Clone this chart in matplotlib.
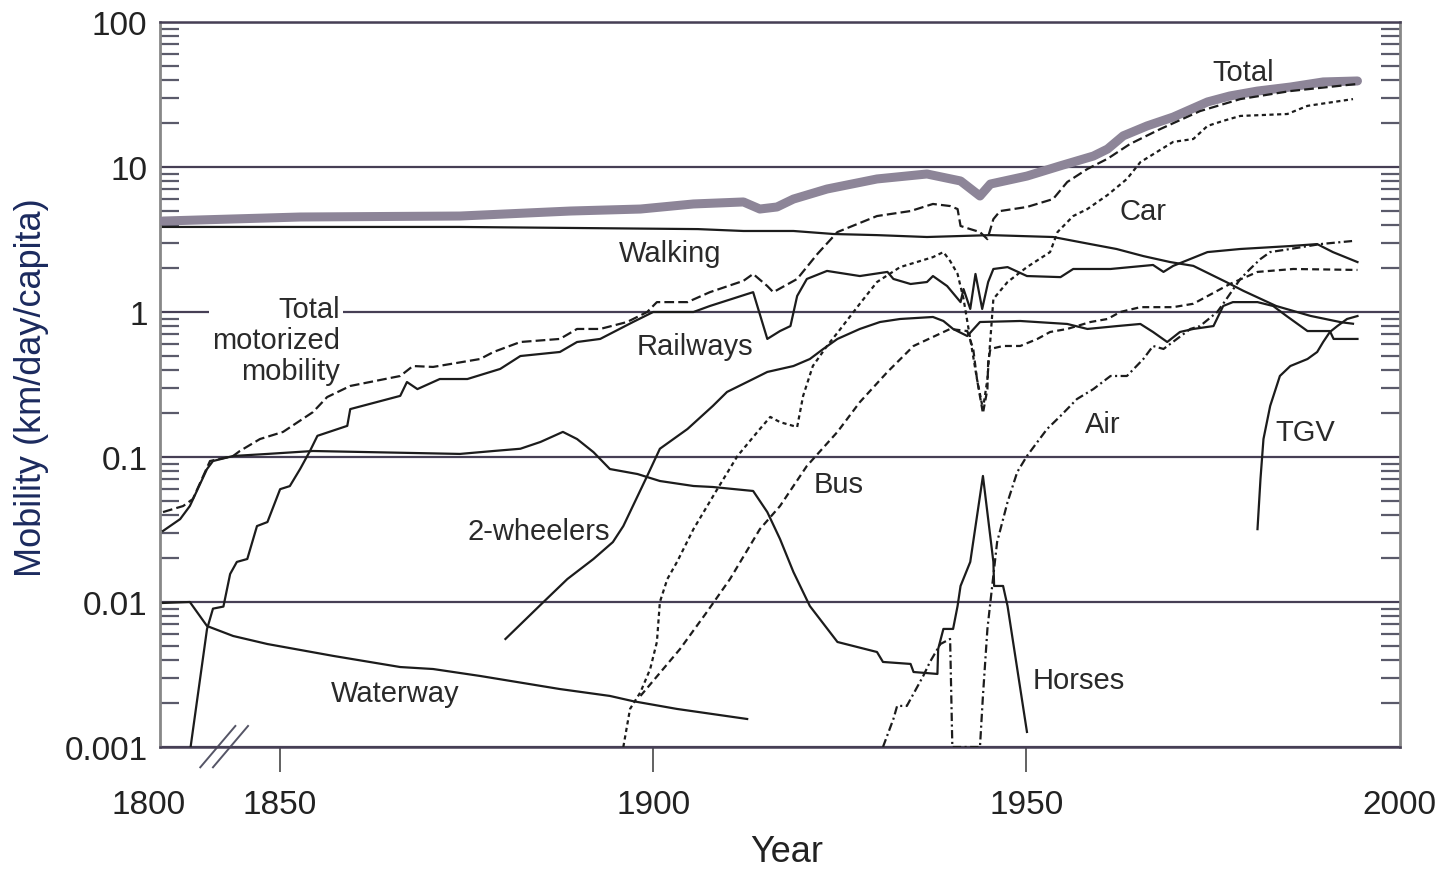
import matplotlib.pyplot as plt
import matplotlib.transforms as mtransforms
from matplotlib.ticker import LogLocator, NullFormatter

plt.rcParams['font.family'] = ['Liberation Sans', 'DejaVu Sans']
plt.rcParams['lines.scale_dashes'] = False

# ---- mobility by mode, km per day per capita ----
total_years = [1834.3, 1852.7, 1874.1, 1888.9, 1898.3, 1905.4, 1912.1, 1914.3, 1916.6, 1918.8,
               1923.3, 1930.0, 1936.7, 1941.2, 1943.8, 1945.2, 1950.1, 1954.6, 1959.0, 1960.9,
               1963.0, 1966.2, 1969.7, 1974.3, 1977.3, 1981.0, 1985.4, 1989.8, 1994.4]
total_vals = [4.24, 4.52, 4.59, 4.97, 5.13, 5.56, 5.74, 5.13, 5.30, 6.01,
              7.05, 8.27, 8.95, 8.01, 6.31, 7.63, 8.66, 10.2, 11.9, 13.3,
              16.4, 19.2, 22.1, 28.1, 30.9, 33.4, 35.6, 38.6, 39.2]

walk_years = [1834.3, 1874.1, 1906.0, 1912.1, 1918.8, 1924.2, 1930.0, 1936.7, 1945.2, 1953.6,
              1958.6, 1962.1, 1965.7, 1969.3, 1972.4, 1976.8, 1979.1, 1983.5, 1988.1, 1992.2, 1993.8]
walk_vals = [3.86, 3.86, 3.73, 3.62, 3.62, 3.45, 3.39, 3.29, 3.39, 3.29,
             2.94, 2.72, 2.43, 2.21, 2.08, 1.61, 1.40, 1.10, 0.94, 0.85, 0.83]

motor_years = [1834.3, 1837.0, 1838.3, 1840.6, 1843.7, 1844.6, 1847.3, 1850.4, 1854.4, 1856.3,
               1859.4, 1866.1, 1867.8, 1870.5, 1876.8, 1878.6, 1882.2, 1887.5, 1889.8, 1892.9,
               1896.5, 1899.2, 1900.5, 1904.6, 1907.6, 1912.1, 1913.4, 1915.3, 1916.1, 1919.3,
               1922.0, 1924.7, 1930.0, 1934.5, 1937.5, 1939.8, 1940.8, 1941.2, 1942.5, 1943.8,
               1944.8, 1945.6, 1946.5, 1950.1, 1953.6, 1955.5, 1958.2, 1960.9, 1963.9, 1968.0,
               1973.3, 1978.7, 1985.4, 1994.4]
motor_vals = [0.0417, 0.0459, 0.0513, 0.0938, 0.1016, 0.110, 0.133, 0.149, 0.204, 0.259,
              0.309, 0.362, 0.424, 0.418, 0.474, 0.530, 0.621, 0.652, 0.764, 0.764,
              0.853, 1.0, 1.17, 1.17, 1.37, 1.64, 1.83, 1.51, 1.37, 1.69,
              2.51, 3.56, 4.59, 4.97, 5.56, 5.38, 5.13, 3.92, 3.73, 3.56,
              3.18, 4.37, 4.97, 5.30, 6.01, 7.88, 9.69, 11.4, 14.4, 18.3,
              24.3, 29.4, 33.4, 37.4]

rail_years = [1838.0, 1840.2, 1841.0, 1842.4, 1843.3, 1844.2, 1845.6, 1846.9, 1848.3, 1850.0,
              1851.3, 1852.7, 1854.0, 1855.0, 1859.0, 1859.4, 1866.1, 1867.0, 1868.4, 1871.4,
              1875.1, 1879.5, 1882.2, 1887.5, 1889.8, 1892.9, 1897.3, 1900.0, 1905.4, 1907.6,
              1912.6, 1913.4, 1915.3, 1917.0, 1918.4, 1919.3, 1920.6, 1923.3, 1927.7, 1931.4,
              1932.2, 1934.5, 1936.7, 1937.5, 1939.4, 1941.2, 1941.6, 1942.5, 1943.2, 1944.1,
              1944.9, 1945.6, 1947.5, 1950.1, 1954.6, 1956.3, 1961.3, 1967.0, 1968.4, 1969.7,
              1974.3, 1978.7, 1985.4, 1989.0, 1991.1, 1994.4]
rail_vals = [0.001, 0.0065, 0.0090, 0.0093, 0.0156, 0.0189, 0.0198, 0.0334, 0.0356, 0.060,
             0.063, 0.083, 0.110, 0.140, 0.164, 0.214, 0.264, 0.329, 0.294, 0.345,
             0.345, 0.405, 0.497, 0.530, 0.621, 0.652, 0.853, 1.0, 1.0, 1.10,
             1.33, 1.37, 0.652, 0.739, 0.80, 1.29, 1.69, 1.92, 1.77, 1.89,
             1.69, 1.56, 1.61, 1.77, 1.51, 1.17, 1.44, 1.05, 1.83, 1.05,
             1.61, 1.98, 2.04, 1.77, 1.74, 1.98, 1.98, 2.11, 1.89, 2.08,
             2.59, 2.72, 2.85, 2.94, 2.59, 2.21]

car_years = [1896.0, 1896.9, 1898.3, 1899.6, 1900.5, 1900.9, 1901.9, 1903.2, 1905.4, 1908.6,
             1911.3, 1914.3, 1915.7, 1917.0, 1919.3, 1920.1, 1921.4, 1923.3, 1925.1, 1927.7,
             1930.0, 1933.1, 1937.5, 1938.9, 1939.8, 1940.8, 1941.6, 1942.5, 1943.4, 1944.2,
             1944.8, 1945.2, 1945.6, 1947.5, 1950.1, 1953.2, 1954.2, 1956.3, 1958.2, 1960.9,
             1963.5, 1965.3, 1969.7, 1972.4, 1974.3, 1976.4, 1978.7, 1985.0, 1987.7, 1993.8]
car_vals = [0.001, 0.00183, 0.00239, 0.00345, 0.0053, 0.010, 0.0144, 0.0189, 0.0318, 0.0601,
            0.1016, 0.156, 0.189, 0.174, 0.161, 0.264, 0.424, 0.583, 0.764, 1.14,
            1.61, 2.04, 2.39, 2.59, 2.25, 1.83, 1.23, 0.652, 0.345, 0.214,
            0.345, 0.652, 1.23, 1.61, 2.04, 2.59, 3.56, 4.59, 5.13, 6.41,
            8.27, 10.8, 14.9, 15.6, 19.2, 20.8, 22.5, 23.2, 26.4, 29.4]

bus_years = [1898.3, 1903.6, 1907.2, 1910.3, 1914.3, 1917.0, 1920.6, 1924.7, 1927.7, 1931.4,
             1934.9, 1939.8, 1942.1, 1942.9, 1943.4, 1944.2, 1944.8, 1944.9, 1945.2, 1946.9,
             1949.2, 1951.5, 1953.2, 1955.5, 1958.6, 1960.9, 1962.6, 1965.3, 1969.7, 1972.4,
             1977.3, 1981.0, 1985.8, 1994.4]
bus_vals = [0.00225, 0.00474, 0.00853, 0.0144, 0.0318, 0.0459, 0.0867, 0.149, 0.239, 0.386,
            0.583, 0.764, 0.739, 0.556, 0.345, 0.20, 0.294, 0.452, 0.556, 0.583,
            0.583, 0.652, 0.728, 0.764, 0.853, 0.895, 1.0, 1.08, 1.08, 1.14,
            1.56, 1.89, 1.98, 1.95]

air_years = [1930.8, 1932.2, 1932.7, 1934.0, 1936.2, 1937.1, 1938.5, 1939.8, 1940.1, 1943.8,
             1944.2, 1944.8, 1945.2, 1946.1, 1947.5, 1948.8, 1950.1, 1951.5, 1952.8, 1954.6,
             1956.8, 1959.0, 1961.3, 1963.5, 1965.7, 1967.0, 1968.4, 1972.0, 1973.3, 1975.6,
             1976.4, 1978.7, 1980.0, 1981.4, 1982.7, 1985.4, 1989.4, 1993.8]
air_vals = [0.001, 0.00156, 0.00192, 0.00192, 0.00309, 0.00386, 0.00513, 0.00556, 0.001, 0.001,
            0.00225, 0.00652, 0.010, 0.0259, 0.0489, 0.0788, 0.1016, 0.127, 0.156, 0.192,
            0.251, 0.294, 0.362, 0.362, 0.474, 0.583, 0.556, 0.764, 0.80, 1.0,
            1.14, 1.69, 1.98, 2.32, 2.59, 2.72, 2.94, 3.09]

horse_years = [1834.3, 1836.6, 1837.9, 1840.2, 1841.0, 1843.7, 1848.3, 1854.4, 1874.1, 1878.6,
               1882.2, 1884.9, 1887.9, 1889.8, 1892.0, 1894.2, 1897.9, 1900.9, 1905.4, 1908.0,
               1913.4, 1915.3, 1917.0, 1918.8, 1921.0, 1924.7, 1930.0, 1930.8, 1934.5, 1934.9,
               1938.1, 1938.2, 1938.9, 1940.2, 1940.8, 1941.2, 1942.5, 1944.2, 1945.6, 1945.7,
               1946.9, 1947.5, 1950.1]
horse_vals = [0.0309, 0.0373, 0.0459, 0.0826, 0.0938, 0.1016, 0.105, 0.110, 0.105, 0.110,
              0.114, 0.127, 0.149, 0.133, 0.108, 0.0826, 0.0763, 0.0683, 0.0631, 0.0621,
              0.0583, 0.0417, 0.0272, 0.0161, 0.00938, 0.0053, 0.00452, 0.00386, 0.00374, 0.00329,
              0.00319, 0.00474, 0.00652, 0.00652, 0.00938, 0.0129, 0.0189, 0.074, 0.0189, 0.0129,
              0.0129, 0.00938, 0.00127]

wheel_years = [1880.2, 1885.3, 1888.5, 1892.0, 1894.6, 1896.0, 1899.2, 1900.9, 1904.6, 1908.0,
               1909.9, 1913.4, 1915.3, 1918.8, 1921.0, 1922.8, 1924.7, 1927.7, 1930.4, 1933.1,
               1937.5, 1938.9, 1940.2, 1942.1, 1943.8, 1949.2, 1955.5, 1958.2, 1962.2, 1965.3,
               1967.0, 1968.9, 1970.6, 1972.4, 1975.1, 1976.4, 1977.7, 1981.0, 1983.1, 1984.9,
               1987.7, 1990.7, 1991.2, 1994.4]
wheel_vals = [0.00556, 0.010, 0.0144, 0.0198, 0.0259, 0.0334, 0.074, 0.114, 0.156, 0.225,
              0.281, 0.345, 0.386, 0.424, 0.474, 0.556, 0.652, 0.764, 0.853, 0.895,
              0.924, 0.867, 0.764, 0.683, 0.853, 0.867, 0.827, 0.764, 0.80, 0.827,
              0.728, 0.621, 0.728, 0.764, 0.80, 1.10, 1.17, 1.17, 1.10, 0.938,
              0.739, 0.739, 0.652, 0.652]

tgv_years = [1981.0, 1981.4, 1981.8, 1982.7, 1984.0, 1985.4, 1987.7, 1989.0, 1989.8, 1990.7,
             1991.7, 1993.0, 1994.4]
tgv_vals = [0.0318, 0.0705, 0.133, 0.225, 0.362, 0.424, 0.474, 0.530, 0.621, 0.728,
            0.80, 0.895, 0.938]

water_years = [1834.3, 1837.9, 1840.2, 1843.7, 1848.3, 1857.1, 1866.1, 1870.5, 1876.8, 1887.5,
               1894.2, 1897.3, 1903.2, 1912.6]
water_vals = [0.00985, 0.010, 0.00683, 0.00583, 0.00513, 0.00425, 0.00356, 0.00345, 0.00309, 0.00251,
              0.00225, 0.00207, 0.00183, 0.00156]

y_ticks = [0.001, 0.01, 0.1, 1, 10, 100]
y_tick_labels = ['0.001', '0.01', '0.1', '1', '10', '100']
x_ticks = [1850, 1900, 1950, 2000]
x_tick_labels = ['1850', '1900', '1950', '2000']

# series labels: (text, year, value)
mode_labels = [
    ('Total', 1979.1, 45.2),
    ('Car', 1965.7, 4.97),
    ('Walking', 1902.3, 2.55),
    ('Railways', 1905.6, 0.583),
    ('Air', 1960.3, 0.169),
    ('TGV', 1987.4, 0.149),
    ('Bus', 1924.8, 0.0651),
    ('2-wheelers', 1884.6, 0.0309),
    ('Horses', 1957.0, 0.0029),
    ('Waterway', 1865.4, 0.00236),
]

ink = '#1c1c1c'
grid_col = '#463f55'

fig = plt.figure(figsize=(14.42, 8.70), dpi=100)
ax = fig.add_axes([160 / 1442, 122 / 870, 1240 / 1442, 725 / 870])
ax.set_yscale('log')
ax.set_xlim(1833.9, 2000.1)
ax.set_ylim(0.001, 100)

# total mobility as a broad grey band
ax.plot(total_years, total_vals, color='#8d8598', lw=6.5, solid_capstyle='round',
        solid_joinstyle='round', zorder=3)

lw = 1.6
ax.plot(walk_years, walk_vals, color=ink, lw=lw, zorder=4)
ax.plot(motor_years, motor_vals, color=ink, lw=lw, dashes=(7, 3), zorder=4)
ax.plot(rail_years, rail_vals, color=ink, lw=lw, zorder=4)
ax.plot(car_years, car_vals, color=ink, lw=lw, dashes=(3, 2.5), zorder=4)
ax.plot(bus_years, bus_vals, color=ink, lw=lw, dashes=(5, 3), zorder=4)
ax.plot(air_years, air_vals, color=ink, lw=lw, dashes=(6, 2.5, 1.5, 2.5), zorder=4)
ax.plot(horse_years, horse_vals, color=ink, lw=lw, zorder=4)
ax.plot(wheel_years, wheel_vals, color=ink, lw=lw, zorder=4)
ax.plot(tgv_years, tgv_vals, color=ink, lw=lw, zorder=4)
ax.plot(water_years, water_vals, color=ink, lw=lw, zorder=4)

for text, yr, val in mode_labels:
    ax.text(yr, val, text, fontsize=21, color='#2a2a2a', ha='center', va='center', zorder=5)

ax.text(1858.0, 0.641, 'Total\nmotorized\nmobility', fontsize=21, color='#2a2a2a',
        ha='right', va='center', multialignment='right', linespacing=1.15, zorder=2.5,
        bbox=dict(facecolor='white', edgecolor='none', pad=2))

# axes styling
ax.set_axisbelow(True)
ax.grid(True, axis='y', which='major', color=grid_col, lw=1.6)
for side in ('top', 'bottom'):
    ax.spines[side].set_color(grid_col)
    ax.spines[side].set_linewidth(1.8)
for side in ('left', 'right'):
    ax.spines[side].set_color('#888888')
    ax.spines[side].set_linewidth(2)

ax.set_yticks(y_ticks)
ax.set_yticklabels(y_tick_labels)
ax.yaxis.set_minor_locator(LogLocator(base=10, subs=range(2, 10)))
ax.yaxis.set_minor_formatter(NullFormatter())
ax.tick_params(axis='y', which='major', length=0, pad=9, labelsize=24, labelcolor='#222222')
ax.tick_params(axis='y', which='minor', direction='in', left=True, right=True,
               length=14, width=1.6, color='#5a5a6a')

ax.set_xticks(x_ticks)
ax.set_xticklabels(x_tick_labels)
ax.tick_params(axis='x', which='major', direction='out', length=18, width=1.3,
               color='#555555', pad=12, labelsize=24, labelcolor='#222222')
ax.xaxis.get_major_ticks()[-1].tick1line.set_visible(False)

# first label sits at the broken start of the time axis
xa = mtransforms.blended_transform_factory(ax.transData, ax.transAxes)
ax.text(1832.3, -0.058, '1800', transform=xa, fontsize=24, color='#222222',
        ha='center', va='top', clip_on=False)

# axis break marks
for x0, x1 in ((1839.3, 1844.0), (1841.0, 1845.7)):
    ax.plot([x0, x1], [-0.028, 0.029], transform=xa, color='#555566', lw=1.4, clip_on=False)

fig.text(32 / 1442, 0.555, 'Mobility (km/day/capita)', rotation=90, fontsize=26,
         color='#1b2a5e', ha='center', va='center')
fig.text(787 / 1442, 0.02, 'Year', fontsize=26, color='#222222', ha='center', va='center')

fig.savefig('out.png', dpi=100, facecolor='white')
